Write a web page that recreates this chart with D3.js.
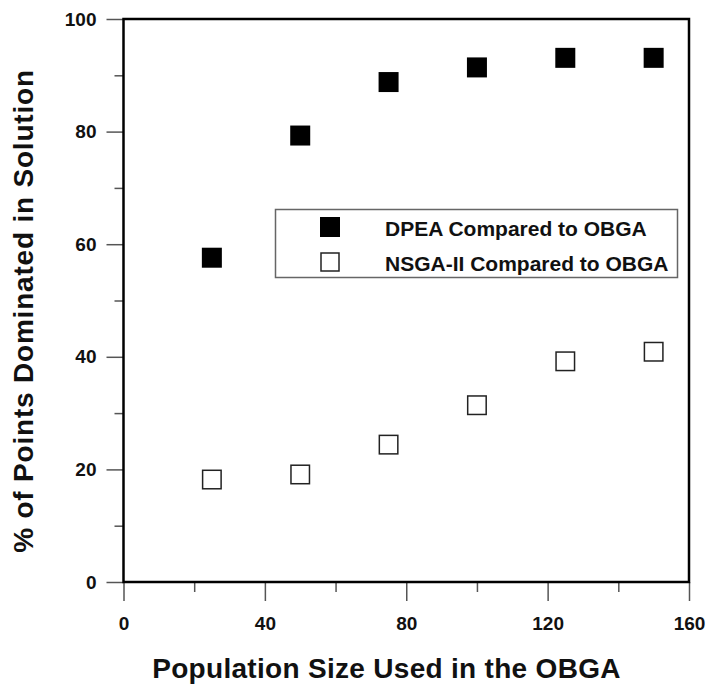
<!DOCTYPE html>
<html>
<head>
<meta charset="utf-8">
<script src="https://cdn.jsdelivr.net/npm/d3@7"></script>
<style>
  body { margin: 0; background: #fff; }
  svg { font-family: "Liberation Sans", Arial, sans-serif; font-weight: bold; }
</style>
</head>
<body>
<div id="chart"></div>
<script>
const popSizes = [25, 50, 75, 100, 125, 150];
const dpeaValues = [57.6, 79.3, 88.8, 91.4, 93.1, 93.1];
const nsgaValues = [18.2, 19.1, 24.4, 31.4, 39.2, 40.9];
const xTicks = [0, 40, 80, 120, 160];
const yTicks = [0, 20, 40, 60, 80, 100];
const seriesLabels = ['DPEA Compared to OBGA', 'NSGA-II Compared to OBGA'];

const fontFamily = '"Liberation Sans", Arial, sans-serif';
const width = 709;
const height = 685;
const margins = { top: 19, right: 20, bottom: 103, left: 123.5 };

const svg = d3.select('#chart').append('svg')
  .attr('width', width)
  .attr('height', height);

const xScale = d3.scaleLinear()
  .domain([0, 160])
  .range([margins.left, width - margins.right]);

const yScale = d3.scaleLinear()
  .domain([0, 100])
  .range([height - margins.bottom, margins.top]);

// minor ticks
const xAxisMinor = d3.axisBottom(xScale)
  .tickValues(d3.range(20, 160, 40))
  .tickSize(10)
  .tickFormat('');
svg.append('g')
  .attr('transform', `translate(0,${yScale(0)})`)
  .call(xAxisMinor)
  .call(g => g.select('.domain').remove())
  .call(g => g.selectAll('line').attr('stroke', '#555').attr('stroke-width', 1.5));

const yAxisMinor = d3.axisLeft(yScale)
  .tickValues(d3.range(10, 100, 20))
  .tickSize(9)
  .tickFormat('');
svg.append('g')
  .attr('transform', `translate(${xScale(0)},0)`)
  .call(yAxisMinor)
  .call(g => g.select('.domain').remove())
  .call(g => g.selectAll('line').attr('stroke', '#555').attr('stroke-width', 1.5));

// major ticks
const xAxis = d3.axisBottom(xScale)
  .tickValues(xTicks)
  .tickSize(19)
  .tickPadding(16)
  .tickFormat(d3.format('d'));
svg.append('g')
  .attr('transform', `translate(0,${yScale(0)})`)
  .call(xAxis)
  .call(g => g.select('.domain').remove())
  .call(g => g.selectAll('line').attr('stroke', '#555').attr('stroke-width', 1.5))
  .call(g => g.selectAll('text')
    .attr('font-size', 19).attr('font-family', fontFamily)
    .attr('font-weight', 'bold').attr('fill', '#111'));

const yAxis = d3.axisLeft(yScale)
  .tickValues(yTicks)
  .tickSize(17)
  .tickPadding(10)
  .tickFormat(d3.format('d'));
svg.append('g')
  .attr('transform', `translate(${xScale(0)},0)`)
  .call(yAxis)
  .call(g => g.select('.domain').remove())
  .call(g => g.selectAll('line').attr('stroke', '#555').attr('stroke-width', 1.5))
  .call(g => g.selectAll('text')
    .attr('font-size', 19).attr('font-family', fontFamily)
    .attr('font-weight', 'bold').attr('fill', '#111'));

// plot frame
svg.append('rect')
  .attr('x', xScale(0))
  .attr('y', yScale(100))
  .attr('width', xScale(160) - xScale(0))
  .attr('height', yScale(0) - yScale(100))
  .attr('fill', 'none')
  .attr('stroke', '#000')
  .attr('stroke-width', 2.5);

const markerSize = 20;

svg.append('g')
  .selectAll('rect')
  .data(popSizes)
  .join('rect')
  .attr('x', (d) => xScale(d) - markerSize / 2)
  .attr('y', (d, i) => yScale(dpeaValues[i]) - markerSize / 2)
  .attr('width', markerSize)
  .attr('height', markerSize)
  .attr('fill', '#000');

svg.append('g')
  .selectAll('rect')
  .data(popSizes)
  .join('rect')
  .attr('x', (d) => xScale(d) - markerSize / 2 + 0.75)
  .attr('y', (d, i) => yScale(nsgaValues[i]) - markerSize / 2 + 0.75)
  .attr('width', markerSize - 1.5)
  .attr('height', markerSize - 1.5)
  .attr('fill', '#fff')
  .attr('stroke', '#222')
  .attr('stroke-width', 1.5);

// legend
const legend = svg.append('g').attr('class', 'legend');
legend.append('rect')
  .attr('x', 275.5)
  .attr('y', 209.5)
  .attr('width', 402)
  .attr('height', 68)
  .attr('fill', '#fff')
  .attr('stroke', '#666')
  .attr('stroke-width', 1.5);

legend.append('rect')
  .attr('x', 320).attr('y', 217)
  .attr('width', 20).attr('height', 20)
  .attr('fill', '#000');
legend.append('rect')
  .attr('x', 321).attr('y', 253)
  .attr('width', 18).attr('height', 18)
  .attr('fill', '#fff').attr('stroke', '#222').attr('stroke-width', 1.5);

legend.selectAll('text')
  .data(seriesLabels)
  .join('text')
  .attr('x', 385)
  .attr('y', (d, i) => 236 + i * 35)
  .attr('font-size', 21)
  .attr('font-family', fontFamily)
  .attr('fill', '#111')
  .text((d) => d);

// axis titles
svg.append('text')
  .attr('x', 386.5)
  .attr('y', 678)
  .attr('text-anchor', 'middle')
  .attr('font-size', 28)
  .attr('letter-spacing', 0.3)
  .attr('font-family', fontFamily)
  .attr('fill', '#111')
  .text('Population Size Used in the OBGA');

svg.append('text')
  .attr('transform', `translate(33,311) rotate(-90)`)
  .attr('text-anchor', 'middle')
  .attr('font-size', 28)
  .attr('letter-spacing', 0.8)
  .attr('font-family', fontFamily)
  .attr('fill', '#111')
  .text('% of Points Dominated in Solution');
</script>
</body>
</html>
